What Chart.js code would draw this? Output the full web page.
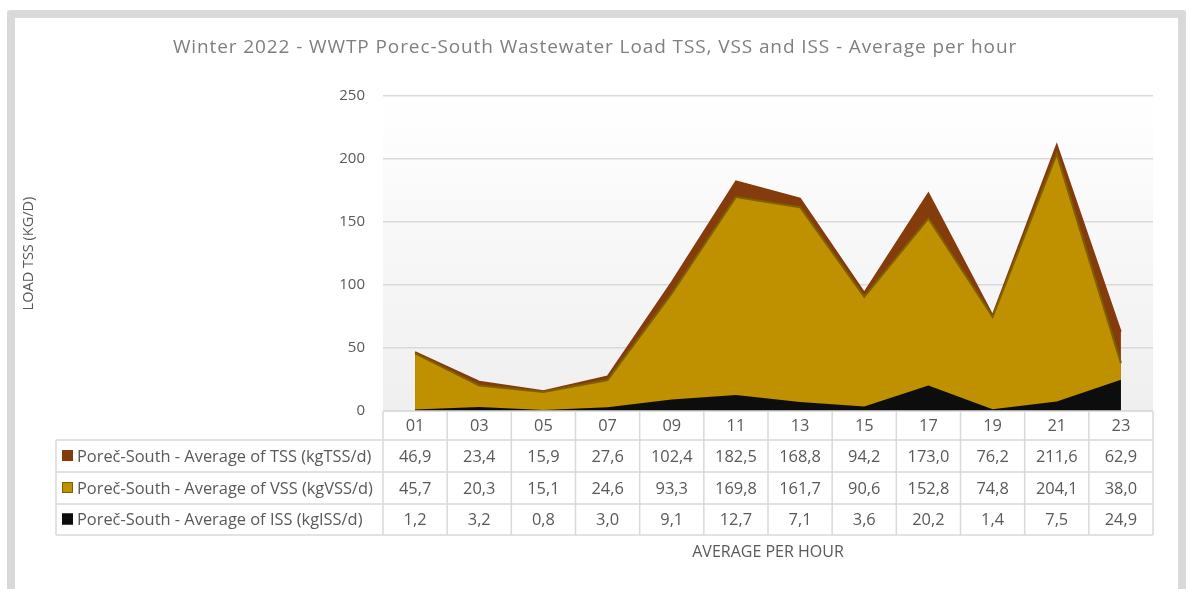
<!DOCTYPE html>
<html>
<head>
<meta charset="utf-8">
<script src="https://cdn.jsdelivr.net/npm/chart.js@4.4.1/dist/chart.umd.min.js"></script>
<style>
  html, body { margin: 0; padding: 0; background: #fff; overflow: hidden; }
  #frame {
    position: absolute; left: 7px; top: 10px;
    width: 1163px; height: 620px;
    border: 8px solid #d9d9d9; border-radius: 3px;
  }
  #wrap { position: absolute; left: 0; top: 0; width: 1190px; height: 589px; }
</style>
</head>
<body>
<div id="frame"></div>
<div id="wrap"><canvas id="loadChart" width="1190" height="589"></canvas></div>
<script>
// ---------------------------------------------------------------------------
// Data
// ---------------------------------------------------------------------------
const HOURS = ['01', '03', '05', '07', '09', '11', '13', '15', '17', '19', '21', '23'];
const TSS = [46.9, 23.4, 15.9, 27.6, 102.4, 182.5, 168.8, 94.2, 173.0, 76.2, 211.6, 62.9];
const VSS = [45.7, 20.3, 15.1, 24.6, 93.3, 169.8, 161.7, 90.6, 152.8, 74.8, 204.1, 38.0];
const ISS = [1.2, 3.2, 0.8, 3.0, 9.1, 12.7, 7.1, 3.6, 20.2, 1.4, 7.5, 24.9];
const SERIES_NAMES = [
    'Poreč-South - Average of TSS (kgTSS/d)',
    'Poreč-South - Average of VSS (kgVSS/d)',
    'Poreč-South - Average of ISS (kgISS/d)',
];
const Y_TICKS = [0, 50, 100, 150, 200, 250];

const TITLE = 'Winter 2022 - WWTP Porec-South Wastewater Load TSS, VSS and ISS - Average per hour';
const FONT = '"Open Sans", "Noto Sans", sans-serif';
const TEXT_COLOR = '#595959';
const LINE_COLOR = '#d9d9d9';

const COLORS = {
    tss: { fill: '#843c0c', border: '#843c0c' },
    vss: { fill: '#bf9000', border: '#7f6000' },
    iss: { fill: '#0d0d0d', border: '#0d0d0d' },
};

// table rows (y pixel edges) below the plot
const TABLE_ROWS = [411, 440, 472, 504, 535];
const LEGEND_LEFT = 56;

const fmt = (v) => v.toFixed(1).replace('.', ',');

// ---------------------------------------------------------------------------
// Plugins
// ---------------------------------------------------------------------------
const plotBackground = {
    id: 'plotBackground',
    beforeDraw(chart) {
        const { ctx, chartArea: a } = chart;
        const g = ctx.createLinearGradient(0, a.top, 0, a.bottom);
        g.addColorStop(0, '#ffffff');
        g.addColorStop(1, '#efefef');
        ctx.save();
        ctx.fillStyle = g;
        ctx.fillRect(a.left, a.top, a.right - a.left, a.bottom - a.top);
        ctx.restore();
    }
};

const titleAndTable = {
    id: 'titleAndTable',
    afterDraw(chart) {
        const { ctx, chartArea: a } = chart;
        const x = chart.scales.x;
        const colW = (a.right - a.left) / HOURS.length;
        ctx.save();

        // title
        ctx.fillStyle = '#7f7f7f';
        ctx.font = '19px ' + FONT;
        ctx.letterSpacing = '0.9px';
        ctx.textAlign = 'center';
        ctx.textBaseline = 'middle';
        ctx.fillText(TITLE, chart.width / 2, 48);
        ctx.letterSpacing = '0px';

        // table grid
        ctx.strokeStyle = LINE_COLOR;
        ctx.lineWidth = 1.5;
        ctx.beginPath();
        ctx.moveTo(a.left, TABLE_ROWS[0]); ctx.lineTo(a.right, TABLE_ROWS[0]);
        for (let r = 1; r < TABLE_ROWS.length; r++) {
            ctx.moveTo(LEGEND_LEFT, TABLE_ROWS[r]); ctx.lineTo(a.right, TABLE_ROWS[r]);
        }
        ctx.moveTo(LEGEND_LEFT, TABLE_ROWS[1]); ctx.lineTo(LEGEND_LEFT, TABLE_ROWS[4]);
        for (let c = 0; c <= HOURS.length; c++) {
            const cx = a.left + c * colW;
            ctx.moveTo(cx, TABLE_ROWS[0]); ctx.lineTo(cx, TABLE_ROWS[4]);
        }
        ctx.stroke();

        // header labels and values
        ctx.fillStyle = TEXT_COLOR;
        ctx.font = '16.4px ' + FONT;
        const rows = [TSS, VSS, ISS];
        HOURS.forEach((h, i) => {
            const cx = x.getPixelForValue(i);
            ctx.fillText(h, cx, (TABLE_ROWS[0] + TABLE_ROWS[1]) / 2 + 1);
            rows.forEach((vals, r) => {
                ctx.fillText(fmt(vals[i]), cx, (TABLE_ROWS[r + 1] + TABLE_ROWS[r + 2]) / 2 + 1);
            });
        });

        // legend keys + series names
        const keys = [COLORS.tss, COLORS.vss, COLORS.iss];
        ctx.textAlign = 'left';
        SERIES_NAMES.forEach((name, r) => {
            const cy = (TABLE_ROWS[r + 1] + TABLE_ROWS[r + 2]) / 2;
            ctx.fillStyle = keys[r].fill;
            ctx.fillRect(62, cy - 6, 11, 11);
            ctx.strokeStyle = keys[r].border;
            ctx.lineWidth = 1;
            ctx.strokeRect(62.5, cy - 5.5, 10, 10);
            ctx.fillStyle = TEXT_COLOR;
            ctx.fillText(name, 77, cy + 1);
        });

        // x axis title
        ctx.textAlign = 'center';
        ctx.font = '16px ' + FONT;
        ctx.fillText('AVERAGE PER HOUR', (a.left + a.right) / 2, 552);
        ctx.restore();
    }
};

// ---------------------------------------------------------------------------
// Chart
// ---------------------------------------------------------------------------
const makeDataset = (label, data, color, order, borderWidth) => ({
    label,
    data,
    fill: 'origin',
    backgroundColor: color.fill,
    borderColor: color.border,
    borderWidth,
    pointRadius: 0,
    tension: 0,
    order,
});

new Chart(document.getElementById('loadChart'), {
    type: 'line',
    data: {
        labels: HOURS,
        datasets: [
            makeDataset(SERIES_NAMES[0], TSS, COLORS.tss, 3, 1.5),
            makeDataset(SERIES_NAMES[1], VSS, COLORS.vss, 2, 2),
            makeDataset(SERIES_NAMES[2], ISS, COLORS.iss, 1, 0),
        ]
    },
    options: {
        responsive: false,
        animation: false,
        layout: { padding: { left: 18, right: 37, top: 96, bottom: 178 } },
        plugins: {
            legend: { display: false },
            title: { display: false },
            tooltip: { enabled: false },
        },
        scales: {
            x: { display: false, offset: true },
            y: {
                min: 0,
                max: 250,
                afterBuildTicks: (scale) => { scale.ticks = Y_TICKS.map(v => ({ value: v })); },
                afterFit: (scale) => { scale.width = 365; },
                ticks: { color: TEXT_COLOR, font: { family: FONT, size: 15 }, padding: 18 },
                grid: { color: LINE_COLOR, lineWidth: 1.5, drawTicks: false },
                border: { display: false },
                title: {
                    display: true,
                    text: 'LOAD TSS (KG/D)',
                    color: TEXT_COLOR,
                    font: { family: FONT, size: 14.5 },
                    padding: { top: 2, bottom: 0 },
                },
            },
        },
    },
    plugins: [plotBackground, titleAndTable],
});
</script>
</body>
</html>
